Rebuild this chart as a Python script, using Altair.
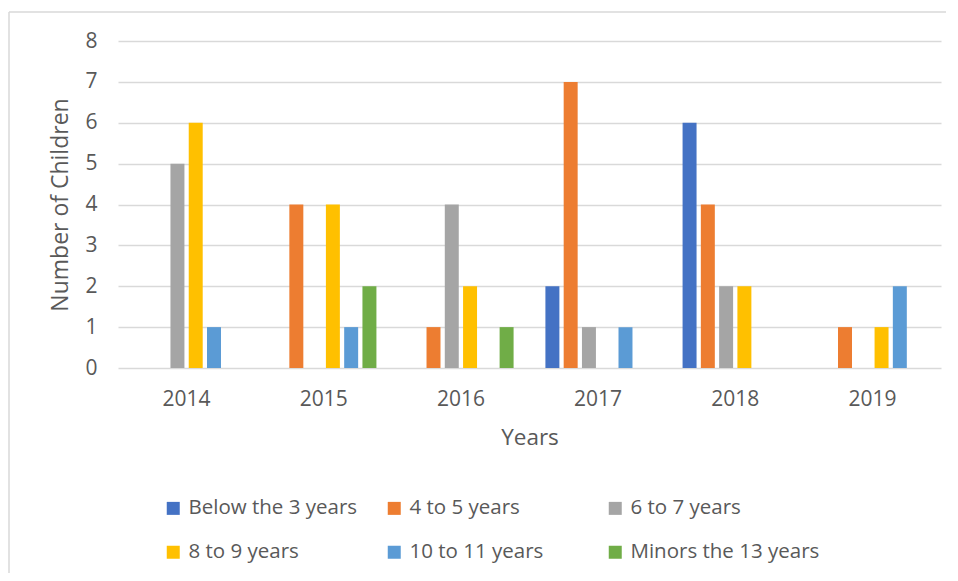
import altair as alt
import pandas as pd

years = ["2014", "2015", "2016", "2017", "2018", "2019"]
series = ["Below the 3 years", "4 to 5 years", "6 to 7 years",
          "8 to 9 years", "10 to 11 years", "Minors the 13 years"]
below_3 = [0, 0, 0, 2, 6, 0]
age_4_5 = [0, 4, 1, 7, 4, 1]
age_6_7 = [5, 0, 4, 1, 2, 0]
age_8_9 = [6, 4, 2, 0, 2, 1]
age_10_11 = [1, 1, 0, 1, 0, 2]
minors_13 = [0, 2, 1, 0, 0, 0]
colors = ["#4472C4", "#ED7D31", "#A5A5A5", "#FFC000", "#5B9BD5", "#70AD47"]

values = [below_3, age_4_5, age_6_7, age_8_9, age_10_11, minors_13]
rows = []
for s, vals in zip(series, values):
    for yr, v in zip(years, vals):
        rows.append({"Year": yr, "Group": s, "Count": v})
df = pd.DataFrame(rows)

FONT = "Open Sans"
TXT = "#595959"
GRID = "#D9D9D9"

bars = alt.Chart(df).mark_bar().encode(
    x=alt.X("Year:N", sort=years,
            scale=alt.Scale(paddingInner=0.2, paddingOuter=0.1),
            axis=alt.Axis(title="Years", labelAngle=0, domain=False, ticks=False,
                          labelPadding=20, labelFontSize=21, labelColor=TXT, labelFont=FONT,
                          titleFontSize=22.5, titleColor=TXT, titleFont=FONT, titleFontWeight="normal",
                          titlePadding=17)),
    xOffset=alt.XOffset("Group:N", sort=series,
                        scale=alt.Scale(paddingInner=0.235, paddingOuter=0.12)),
    y=alt.Y("Count:Q", scale=alt.Scale(domain=[0, 8], nice=False),
            axis=alt.Axis(title="Number of Children", values=list(range(9)),
                          domain=False, ticks=False, grid=True, gridColor=GRID, gridWidth=1.6,
                          labelPadding=21, labelFontSize=21, labelColor=TXT, labelFont=FONT,
                          titleFontSize=23, titleColor=TXT, titleFont=FONT, titleFontWeight="normal",
                          titlePadding=12)),
    color=alt.Color("Group:N", sort=series,
                    scale=alt.Scale(domain=series, range=colors),
                    legend=alt.Legend(title=None, orient="none", legendX=45, legendY=457,
                                      columns=3, direction="horizontal", gridAlign="all",
                                      columnPadding=6, rowPadding=23,
                                      symbolType="square", symbolSize=169, symbolStrokeWidth=0,
                                      labelOffset=5, labelFontSize=20.5, labelColor=TXT,
                                      labelFont=FONT, labelLimit=400, padding=0)),
)

frame = alt.Chart(alt.Data(values=[{}])).mark_rule(color=GRID, strokeWidth=1.5).encode(
    x=alt.value(-109), x2=alt.value(900), y=alt.value(-29)
)
frame_left = alt.Chart(alt.Data(values=[{}])).mark_rule(color=GRID, strokeWidth=1.5).encode(
    x=alt.value(-109), y=alt.value(-29), y2=alt.value(560)
)

chart = alt.layer(frame, frame_left, bars).properties(
    width=823, height=327,
    autosize=alt.AutoSizeParams(type="none"),
    padding={"left": 110, "top": 33, "right": 5, "bottom": 205},
).configure_view(stroke=None)

chart.save("out.html", embed_options={"renderer": "svg", "actions": False})
